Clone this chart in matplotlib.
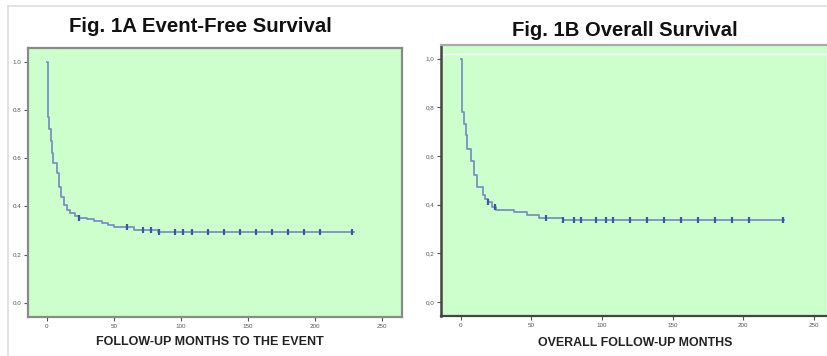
import numpy as np
import matplotlib
matplotlib.use("Agg")
import matplotlib.pyplot as plt
from matplotlib.lines import Line2D

plt.rcParams['font.family'] = ['Liberation Sans', 'DejaVu Sans']

# Fig. 1A event-free survival (step times in months, survival after the step)
efs_times = [0, 0.6, 1.9, 3.0, 3.9, 5.0, 7.6, 8.8, 10.5, 12.5, 15.0, 17.5, 21.0,
             24.0, 30.0, 35.0, 41.0, 46.0, 50.0, 65.0, 83.0, 229.0]
efs_surv = [1.0, 0.77, 0.72, 0.67, 0.62, 0.58, 0.54, 0.48, 0.44, 0.405, 0.385,
            0.372, 0.36, 0.353, 0.346, 0.340, 0.333, 0.325, 0.313, 0.303, 0.293, 0.293]
efs_censor = [24, 60, 72, 78, 84, 96, 102, 108, 120, 132, 144, 156, 168, 180,
              192, 204, 228]

# Fig. 1B overall survival
os_times = [0, 0.7, 2.4, 3.5, 4.7, 7.0, 9.5, 11.8, 15.4, 17.0, 19.0, 22.0, 25.0,
            38.0, 47.0, 55.0, 72.0, 229.0]
os_surv = [1.0, 0.78, 0.73, 0.686, 0.63, 0.578, 0.52, 0.473, 0.44, 0.425, 0.41,
           0.39, 0.377, 0.368, 0.356, 0.345, 0.336, 0.336]
os_censor = [19, 24, 60, 72, 80, 85, 96, 103, 108, 120, 132, 144, 156, 168, 180,
             192, 204, 228]

xticks = [0, 50, 100, 150, 200, 250]
yticks = [0.0, 0.2, 0.4, 0.6, 0.8, 1.0]
efs_ylabels = ['0.0', '0.2', '0.4', '0.6', '0.8', '1.0']
os_ylabels = ['0,0', '0,2', '0,4', '0,6', '0,8', '1,0']

line_col = '#7892c4'
mark_col = '#3a56a8'
bg = '#ccffcc'


def step_value(times, surv, t):
    i = np.searchsorted(times, t, side='right') - 1
    return np.asarray(surv)[i]


def km_panel(ax, times, surv, censor, ylabels):
    ax.set_facecolor(bg)
    ax.step(times, surv, where='post', color=line_col, lw=1.3, zorder=3)
    cy = step_value(times, surv, censor)
    ax.plot(censor, cy, ls='none', marker='|', ms=4, mew=1.6, color=mark_col, zorder=4)
    ax.set_xlim(-14, 265)
    ax.set_ylim(-0.058, 1.056)
    ax.set_xticks(xticks)
    ax.set_xticklabels([str(v) for v in xticks])
    ax.set_yticks(yticks)
    ax.set_yticklabels(ylabels)
    ax.tick_params(labelsize=4.5, length=3, width=0.8, colors='#555555', pad=2)


fig = plt.figure(figsize=(8.27, 3.56), dpi=100)
fig.patch.set_facecolor('white')

ax1 = fig.add_axes([28 / 827, 1 - 317 / 356, 374 / 827, 269 / 356])
km_panel(ax1, efs_times, efs_surv, efs_censor, efs_ylabels)
for s in ax1.spines.values():
    s.set_color('#8a8a8a')
    s.set_linewidth(1.6)

ax2 = fig.add_axes([441 / 827, 1 - 316 / 356, 390 / 827, 271 / 356])
km_panel(ax2, os_times, os_surv, os_censor, os_ylabels)
ax2.set_xlim(-14, 262)
ax2.spines['left'].set_color('#444444')
ax2.spines['left'].set_linewidth(1.8)
ax2.spines['bottom'].set_color('#444444')
ax2.spines['bottom'].set_linewidth(1.6)
ax2.spines['top'].set_color('#aaaaaa')
ax2.spines['top'].set_linewidth(1.6)
ax2.spines['right'].set_visible(False)
ax2.axhline(1.02, color='white', lw=1.0, zorder=2)

# titles and axis labels placed as in the original screenshot
fig.text(200 / 827, 1 - 27 / 356, 'Fig. 1A Event-Free Survival', ha='center', va='center',
         fontsize=14.7, fontweight='bold', color='#111111')
fig.text(625 / 827, 1 - 30 / 356, 'Fig. 1B Overall Survival', ha='center', va='center',
         fontsize=14.6, fontweight='bold', color='#111111')
fig.text(210 / 827, 1 - 342 / 356, 'FOLLOW-UP MONTHS TO THE EVENT', ha='center', va='center',
         fontsize=9.0, fontweight='bold', color='#222222')
fig.text(635 / 827, 1 - 343 / 356, 'OVERALL FOLLOW-UP MONTHS', ha='center', va='center',
         fontsize=8.9, fontweight='bold', color='#222222')

# thin outer border of the original screenshot
fig.add_artist(Line2D([8 / 827, 8 / 827], [0, 1 - 6 / 356], color='#dddddd', lw=1.2))
fig.add_artist(Line2D([8 / 827, 1], [1 - 6 / 356, 1 - 6 / 356], color='#dddddd', lw=1.2))

fig.savefig('out.png', dpi=100)
